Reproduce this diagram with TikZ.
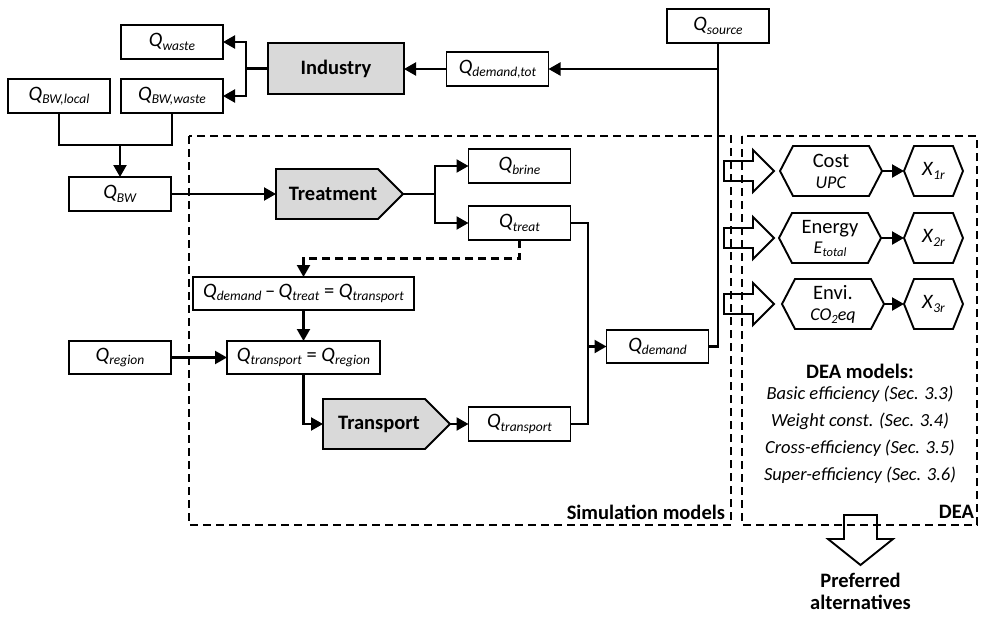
\documentclass[tikz,border=0pt]{standalone}
\usepackage{fontspec}
\setmainfont{Carlito}
\usetikzlibrary{arrows.meta}
\definecolor{boxgray}{HTML}{D9D9D9}
% italic quantity with an italic subscript
\newcommand\qsub[2]{\textit{#1}\raisebox{-3.5pt}{\fontsize{13.5}{14}\selectfont\textit{#2}}}
% hexagon outline around a (borderless) node
\newcommand\hexoutline[2]{\draw[line width=1.9pt, line join=miter] (#1.west) -- ([xshift=#2]#1.north west) -- ([xshift=-#2]#1.north east) -- (#1.east) -- ([xshift=-#2]#1.south east) -- ([xshift=#2]#1.south west) -- cycle;}

\begin{document}
\begin{tikzpicture}[x=1pt,y=-1pt,
  every node/.style={font=\fontsize{20.5}{24}\selectfont, inner sep=0pt, outer sep=0pt},
  qbox/.style={draw, line width=1.9pt, minimum width=102pt, minimum height=34pt},
  hexnode/.style={minimum height=50pt, align=center},
  conn/.style={line width=2.2pt},
  arr/.style={conn, -{Triangle[length=12pt,width=13pt]}},
  frame/.style={line width=2.2pt, dash pattern=on 8pt off 5pt},
  block/.style={line width=1.9pt, fill=boxgray, line join=miter},
  hollow/.style={line width=1.9pt, line join=miter},
  bold/.style={font=\fontsize{20.5}{24}\selectfont\bfseries},
  listfont/.style={font=\fontsize{18.5}{22}\selectfont\itshape}
]
\useasboundingbox (0,0) rectangle (981,616);

% ---------- frames ----------
\draw[frame] (189,136) rectangle (731,525);
\draw[frame] (742,136) rectangle (977,525);
\node[bold, anchor=east] (simlabel) at (725,512) {Simulation models};
\node[bold, anchor=east] (dealabel) at (974,512) {DEA};

% ---------- industry part ----------
\node[qbox] (qwaste) at (172,42) {\qsub{Q}{waste}};
\node[qbox, draw, fill=boxgray, minimum width=136pt, minimum height=51pt, bold] (industry) at (336,68.5) {Industry};
\node[qbox] (qbwlocal) at (59,96) {\qsub{Q}{BW,local}};
\node[qbox] (qbwwaste) at (172,96) {\qsub{Q}{BW,waste}};
\node[qbox] (qdemtot) at (497.5,69) {\qsub{Q}{demand,tot}};
\node[qbox] (qsource) at (718,26) {\qsub{Q}{source}};
\node[qbox] (qbw) at (120,194) {\qsub{Q}{BW}};

\draw[arr] (industry.west) -- ++(-22,0) |- (qwaste.east);
\draw[arr] (industry.west) -- ++(-22,0) |- (qbwwaste.east);
\draw[arr] (qdemtot.west) -- (qdemtot.west -| industry.east);
\draw[arr] (qsource.south |- qdemtot.east) -- (qdemtot.east);
\coordinate (merge) at (120,145);
\draw[conn] (qbwlocal.south) |- (merge) -| (qbwwaste.south);
\draw[arr] (merge) -- (qbw.north);

% ---------- treatment ----------
\draw[block] (276,169) -- (378,169) -- (403,194) -- (378,219) -- (276,219) -- cycle;
\coordinate (treatin) at (276,194);
\coordinate (treattip) at (403,194);
\node[bold] (treatment) at (333,194) {Treatment};
\node[qbox] (qbrine) at (519.5,166) {\qsub{Q}{brine}};
\node[qbox] (qtreat) at (519.5,223) {\qsub{Q}{treat}};
\draw[arr] (qbw.east) -- (treatin);
\draw[arr] (treattip) -- ++(32,0) |- (qbrine.west);
\draw[arr] (treattip) -- ++(32,0) |- (qtreat.west);

% ---------- balance equations ----------
\node[qbox, minimum width=221pt, minimum height=33pt] (eq1) at (303.5,293.5)
  {\qsub{Q}{demand}\,{\textendash}\,\qsub{Q}{treat} = \qsub{Q}{transport}};
\node[qbox, minimum width=153pt, minimum height=33pt] (eq2) at (303.5,357.5)
  {\qsub{Q}{transport} = \qsub{Q}{region}};
\node[qbox, minimum height=33pt] (qregion) at (120,357.5) {\qsub{Q}{region}};
\draw[arr, dash pattern=on 8pt off 5pt] (qtreat.south) -- ++(0,18.5) -| (eq1.north);
\draw[arr] (eq1.south) -- (eq2.north);
\draw[arr] (qregion.east) -- (eq2.west);

% ---------- transport ----------
\draw[block] (323,399) -- (425,399) -- (450,424) -- (425,449) -- (323,449) -- cycle;
\coordinate (transin) at (323,424);
\coordinate (transtip) at (450,424);
\node[bold] (transport) at (379,424) {Transport};
\node[qbox] (qtransport) at (519.5,424) {\qsub{Q}{transport}};
\node[qbox, minimum height=33pt] (qdemand) at (657.5,346.5) {\qsub{Q}{demand}};
\draw[arr] (eq2.south) |- (transin);
\draw[arr] (transtip) -- (qtransport.west);
\coordinate (junc) at (588,346.5);
\draw[conn] (qtreat.east) -| (junc) |- (qtransport.east);
\draw[arr] (junc) -- (qdemand.west);
\draw[conn] (qsource.south) |- (qdemand.east);

% ---------- DEA criteria ----------
\foreach \c in {171,238,304}{
  \draw[hollow] (724,\c-10) -- (753,\c-10) -- (753,\c-21) -- (774,\c)
    -- (753,\c+21) -- (753,\c+10) -- (724,\c+10) -- cycle;
}
\node[hexnode, minimum width=102pt] (cost) at (831,171)
  {Cost\\[-3pt]{\fontsize{18}{20}\selectfont\textit{UPC}}};
\node[hexnode, minimum width=102pt] (energy) at (830,238)
  {Energy\\[-4pt]{\fontsize{18}{20}\selectfont\textit{E}\raisebox{-3pt}{\fontsize{12.5}{13}\selectfont\textit{total}}}};
\node[hexnode, minimum width=102pt] (envi) at (833,304)
  {Envi.\\[-3pt]{\fontsize{18}{20}\selectfont\textit{CO\raisebox{-3pt}{\fontsize{12.5}{13}\selectfont 2}eq}}};
\node[hexnode, minimum width=59pt] (x1) at (933.5,171) {\qsub{X}{1r}};
\node[hexnode, minimum width=59pt] (x2) at (933.5,238) {\qsub{X}{2r}};
\node[hexnode, minimum width=59pt] (x3) at (933.5,304) {\qsub{X}{3r}};
\hexoutline{cost}{13}
\hexoutline{energy}{13}
\hexoutline{envi}{13}
\hexoutline{x1}{10}
\hexoutline{x2}{10}
\hexoutline{x3}{10}
\draw[arr] (cost.east) -- (x1.west);
\draw[arr] (energy.east) -- (x2.west);
\draw[arr] (envi.east) -- (x3.west);

% ---------- DEA models ----------
\node[bold] (deamodels) at (860,371) {DEA models:};
\node[listfont] (m1) at (860,394) {Basic efficiency (Sec. 3.3)};
\node[listfont] (m2) at (860,421) {Weight const. (Sec. 3.4)};
\node[listfont] (m3) at (860,448) {Cross-efficiency (Sec. 3.5)};
\node[listfont] (m4) at (860,475) {Super-efficiency (Sec. 3.6)};

% ---------- result ----------
\draw[hollow] (844,515) -- (877,515) -- (877,539) -- (893,539) -- (860.5,565)
  -- (828,539) -- (844,539) -- cycle;
\node[bold] (pref) at (860.5,580) {Preferred};
\node[bold] (alt) at (860.5,602.5) {alternatives};
\end{tikzpicture}
\end{document}
